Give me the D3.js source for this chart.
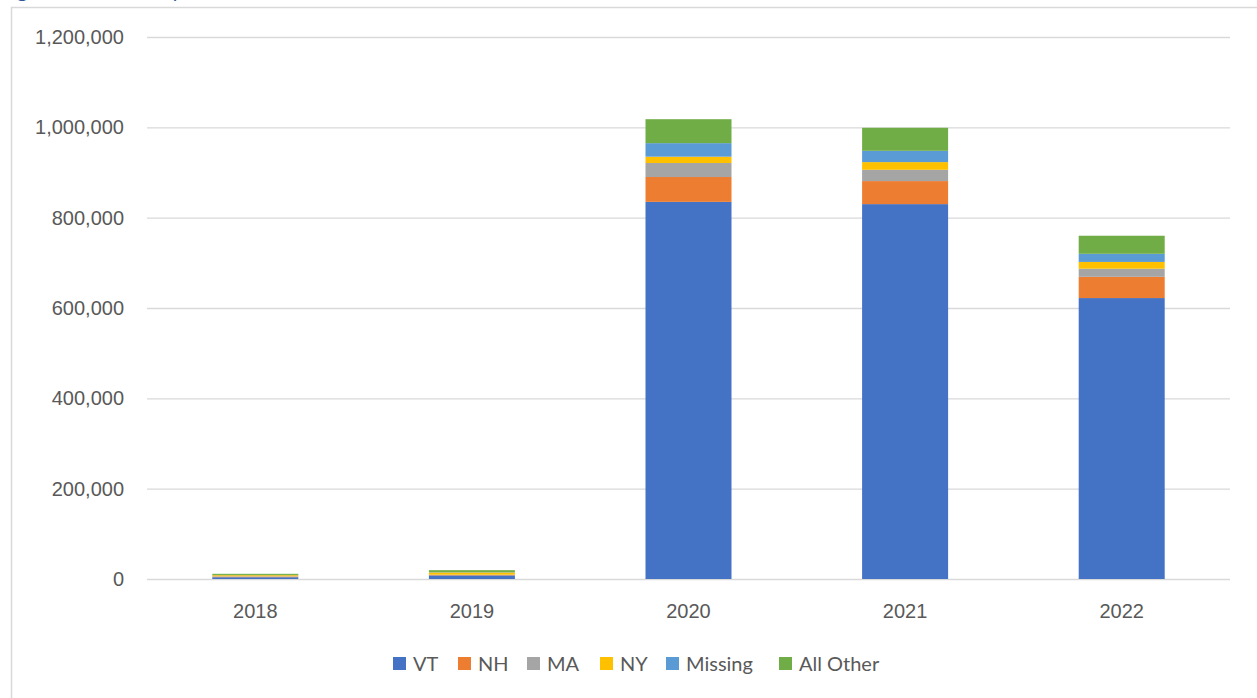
<!DOCTYPE html>
<html>
<head>
<meta charset="utf-8">
<script src="https://cdn.jsdelivr.net/npm/d3@7"></script>
<style>
  body { margin: 0; background: #fff; }
  svg { display: block; font-family: Lato, "Open Sans", sans-serif; }
</style>
</head>
<body>
<div id="chart"></div>
<script>
// data
const years = ["2018", "2019", "2020", "2021", "2022"];
const seriesNames = ["VT", "NH", "MA", "NY", "Missing", "All Other"];
const colors = ["#4472C4", "#ED7D31", "#A5A5A5", "#FFC000", "#5B9BD5", "#70AD47"];

const vt      = [4000, 8000, 835000, 830000, 622000];
const nh      = [1000, 1000, 55000, 51000, 47000];
const ma      = [1000, 500, 31000, 25000, 18000];
const ny      = [2500, 5000, 14000, 17000, 15000];
const missing = [500, 500, 30000, 25000, 18000];
const other   = [2500, 4500, 53000, 51000, 40000];

const yTicks = [0, 200000, 400000, 600000, 800000, 1000000, 1200000];

const width = 1257, height = 698;
const margin = { left: 147, right: 27, top: 37, bottom: 119 };

const rows = years.map((y, i) => ({
  year: y,
  "VT": vt[i], "NH": nh[i], "MA": ma[i], "NY": ny[i],
  "Missing": missing[i], "All Other": other[i]
}));

const stacked = d3.stack().keys(seriesNames)(rows);

const svg = d3.select("#chart").append("svg")
  .attr("width", width)
  .attr("height", height);

// title sits above the frame, only its descenders show
svg.append("text")
  .attr("x", 0)
  .attr("y", -3)
  .attr("fill", "#2F5597")
  .style("font-size", "21px")
  .text("Figure 1. Visitors by Home Location, 2018-2022");

// chart border
svg.append("rect")
  .attr("x", 11.5)
  .attr("y", 7.5)
  .attr("width", width + 10)
  .attr("height", height + 10)
  .attr("fill", "none")
  .attr("stroke", "#d9d9d9")
  .attr("stroke-width", 1.5);

const x = d3.scaleBand()
  .domain(years)
  .range([margin.left, width - margin.right]);

const y = d3.scaleLinear()
  .domain([0, 1200000])
  .range([height - margin.bottom, margin.top]);

// gridlines + y labels
const yAxis = svg.append("g")
  .attr("transform", `translate(${margin.left},0)`)
  .call(d3.axisLeft(y)
    .tickValues(yTicks)
    .tickSize(-(width - margin.left - margin.right))
    .tickPadding(23)
    .tickFormat(d3.format(",")));

yAxis.select(".domain").remove();
yAxis.selectAll(".tick line").attr("stroke", "#d9d9d9").attr("stroke-width", 1.3);
yAxis.selectAll(".tick text")
  .attr("fill", "#595959")
  .style("font-size", "20px");

// bars
const barW = 86;
svg.append("g").selectAll("g")
  .data(stacked)
  .join("g")
  .attr("fill", (d, i) => colors[i])
  .selectAll("rect")
  .data(d => d)
  .join("rect")
  .attr("x", d => x(d.data.year) + x.bandwidth() / 2 - barW / 2)
  .attr("y", d => y(d[1]))
  .attr("width", barW)
  .attr("height", d => y(d[0]) - y(d[1]));

// x labels
const xAxis = svg.append("g")
  .attr("transform", `translate(0,${height - margin.bottom})`)
  .call(d3.axisBottom(x).tickSize(0).tickPadding(25));
xAxis.select(".domain").remove();
xAxis.selectAll(".tick text")
  .attr("fill", "#595959")
  .style("font-size", "20px");

// legend
const legendX = [393, 458, 527, 600, 666, 779];
const legend = svg.append("g");
seriesNames.forEach((name, i) => {
  const g = legend.append("g").attr("transform", `translate(${legendX[i]},657)`);
  g.append("rect")
    .attr("width", 13)
    .attr("height", 13)
    .attr("fill", colors[i]);
  g.append("text")
    .attr("x", 20)
    .attr("y", 13.5)
    .attr("fill", "#595959")
    .style("font-size", "20px")
    .text(name);
});
</script>
</body>
</html>
